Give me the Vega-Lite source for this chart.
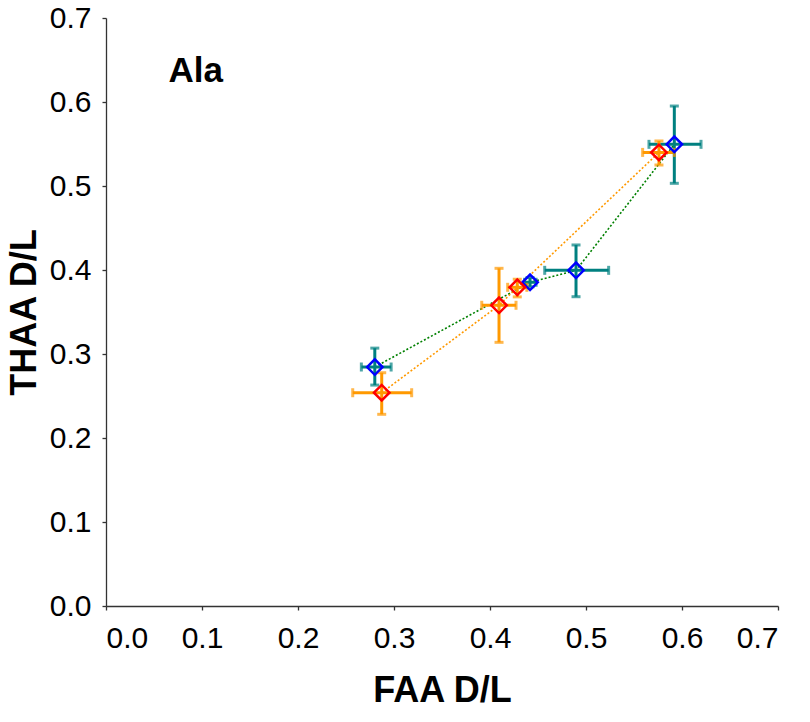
{
  "$schema": "https://vega.github.io/schema/vega-lite/v6.json",
  "width": 672,
  "height": 588,
  "autosize": {"type": "none"},
  "padding": {"left": 106, "top": 18, "right": 32, "bottom": 116},
  "background": "white",
  "config": {
    "view": {"stroke": null},
    "font": "Liberation Sans",
    "axis": {
      "grid": false,
      "domainColor": "#333333",
      "domainWidth": 1.3,
      "tickColor": "#333333",
      "tickWidth": 1.3,
      "tickSize": 4,
      "labelFont": "Liberation Sans",
      "labelFontSize": 30,
      "labelColor": "black",
      "titleFont": "Liberation Sans",
      "titleFontSize": 36,
      "titleFontWeight": "bold",
      "titleColor": "black"
    }
  },
  "datasets": {
    "pts": [
      {"series": "A", "x": 0.280, "y": 0.2845, "xlo": 0.266, "xhi": 0.297, "ylo": 0.263, "yhi": 0.307},
      {"series": "A", "x": 0.4417, "y": 0.3854, "xlo": 0.436, "xhi": 0.448, "ylo": 0.380, "yhi": 0.391},
      {"series": "A", "x": 0.4896, "y": 0.3996, "xlo": 0.457, "xhi": 0.5236, "ylo": 0.3682, "yhi": 0.4298},
      {"series": "A", "x": 0.592, "y": 0.5496, "xlo": 0.5656, "xhi": 0.6198, "ylo": 0.5032, "yhi": 0.5952},
      {"series": "B", "x": 0.2872, "y": 0.2539, "xlo": 0.257, "xhi": 0.3184, "ylo": 0.2282, "yhi": 0.2777},
      {"series": "B", "x": 0.4094, "y": 0.358, "xlo": 0.3914, "xhi": 0.4271, "ylo": 0.3139, "yhi": 0.402},
      {"series": "B", "x": 0.4284, "y": 0.3794, "xlo": 0.4184, "xhi": 0.4384, "ylo": 0.368, "yhi": 0.389},
      {"series": "B", "x": 0.576, "y": 0.540, "xlo": 0.559, "xhi": 0.592, "ylo": 0.525, "yhi": 0.5536}
    ],
    "lbl": [{"text": "Ala", "x": 0.065, "y": 0.624}]
  },
  "layer": [
    {
      "data": {"name": "pts"},
      "mark": {"type": "line", "strokeDash": [2, 2], "strokeWidth": 1.6},
      "encoding": {
        "x": {"field": "x", "type": "quantitative", "scale": {"domain": [0, 0.7], "nice": false, "zero": true},
              "axis": {"values": [0, 0.1, 0.2, 0.3, 0.4, 0.5, 0.6, 0.7], "format": ".1f", "title": "FAA D/L", "labelPadding": 13, "titlePadding": 20}},
        "y": {"field": "y", "type": "quantitative", "scale": {"domain": [0, 0.7], "nice": false},
              "axis": {"values": [0, 0.1, 0.2, 0.3, 0.4, 0.5, 0.6, 0.7], "format": ".1f", "title": "THAA D/L", "labelPadding": 11, "titlePadding": 6}},
        "order": {"field": "x", "type": "quantitative"},
        "color": {"field": "series", "type": "nominal", "scale": {"domain": ["A", "B"], "range": ["#008000", "#FF9900"]}, "legend": null}
      }
    },
    {
      "data": {"name": "pts"},
      "mark": {"type": "rule", "strokeWidth": 3},
      "encoding": {
        "x": {"field": "xlo", "type": "quantitative"},
        "x2": {"field": "xhi"},
        "y": {"field": "y", "type": "quantitative"},
        "color": {"field": "series", "type": "nominal", "scale": {"domain": ["A", "B"], "range": ["#008080", "#FF9900"]}, "legend": null}
      }
    },
    {
      "data": {"name": "pts"},
      "mark": {"type": "rule", "strokeWidth": 3},
      "encoding": {
        "x": {"field": "x", "type": "quantitative"},
        "y": {"field": "ylo", "type": "quantitative"},
        "y2": {"field": "yhi"},
        "color": {"field": "series", "type": "nominal", "scale": {"domain": ["A", "B"], "range": ["#008080", "#FF9900"]}, "legend": null}
      }
    },
    {
      "data": {"name": "pts"},
      "mark": {"type": "tick", "orient": "horizontal", "size": 9, "thickness": 3},
      "encoding": {
        "x": {"field": "x", "type": "quantitative"},
        "y": {"field": "ylo", "type": "quantitative"},
        "color": {"field": "series", "type": "nominal", "scale": {"domain": ["A", "B"], "range": ["#008080", "#FF9900"]}, "legend": null}
      }
    },
    {
      "data": {"name": "pts"},
      "mark": {"type": "tick", "orient": "horizontal", "size": 9, "thickness": 3},
      "encoding": {
        "x": {"field": "x", "type": "quantitative"},
        "y": {"field": "yhi", "type": "quantitative"},
        "color": {"field": "series", "type": "nominal", "scale": {"domain": ["A", "B"], "range": ["#008080", "#FF9900"]}, "legend": null}
      }
    },
    {
      "data": {"name": "pts"},
      "mark": {"type": "tick", "orient": "vertical", "size": 9, "thickness": 3},
      "encoding": {
        "x": {"field": "xlo", "type": "quantitative"},
        "y": {"field": "y", "type": "quantitative"},
        "color": {"field": "series", "type": "nominal", "scale": {"domain": ["A", "B"], "range": ["#008080", "#FF9900"]}, "legend": null}
      }
    },
    {
      "data": {"name": "pts"},
      "mark": {"type": "tick", "orient": "vertical", "size": 9, "thickness": 3},
      "encoding": {
        "x": {"field": "xhi", "type": "quantitative"},
        "y": {"field": "y", "type": "quantitative"},
        "color": {"field": "series", "type": "nominal", "scale": {"domain": ["A", "B"], "range": ["#008080", "#FF9900"]}, "legend": null}
      }
    },
    {
      "data": {"name": "pts"},
      "mark": {"type": "point", "shape": "diamond", "size": 240, "strokeWidth": 2.5, "filled": false, "opacity": 1},
      "encoding": {
        "x": {"field": "x", "type": "quantitative"},
        "y": {"field": "y", "type": "quantitative"},
        "color": {"field": "series", "type": "nominal", "scale": {"domain": ["A", "B"], "range": ["#0000FF", "#FF0000"]}, "legend": null}
      }
    },
    {
      "data": {"name": "lbl"},
      "mark": {"type": "text", "font": "Liberation Sans", "fontSize": 35, "fontWeight": "bold", "align": "left", "baseline": "alphabetic", "color": "black"},
      "encoding": {
        "x": {"field": "x", "type": "quantitative"},
        "y": {"field": "y", "type": "quantitative"},
        "text": {"field": "text"}
      }
    }
  ],
  "resolve": {"scale": {"color": "independent"}}
}
